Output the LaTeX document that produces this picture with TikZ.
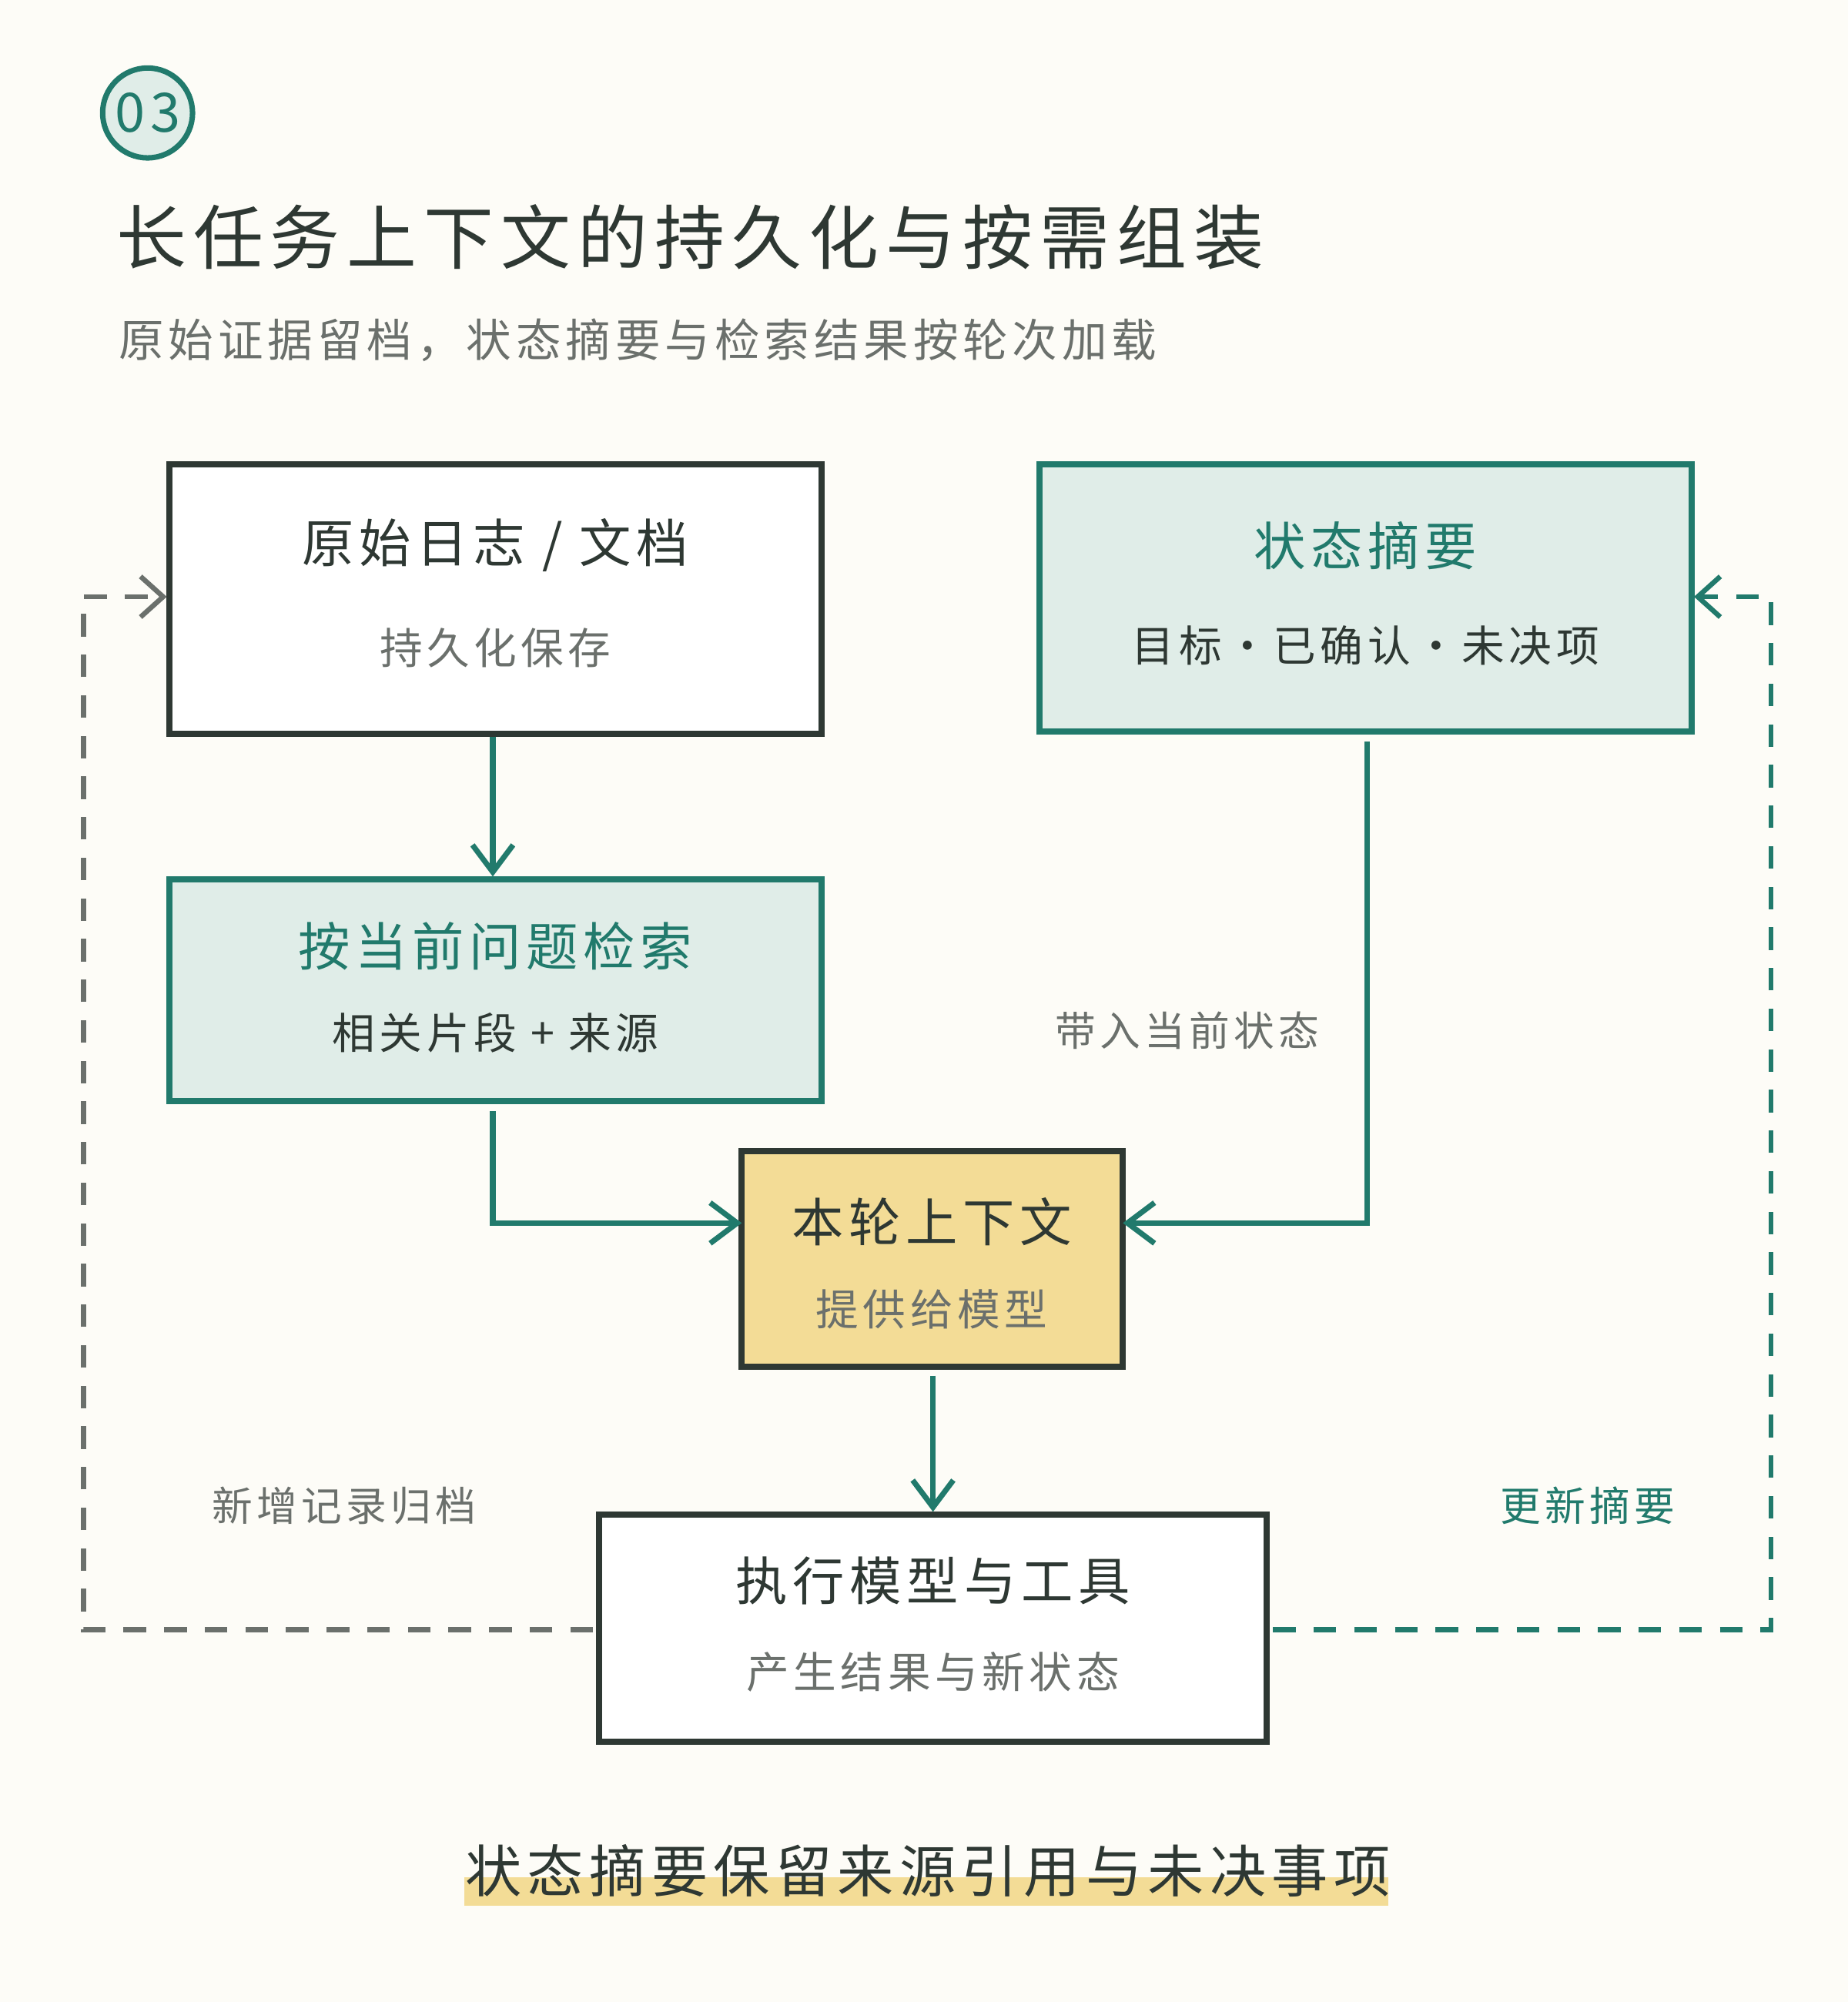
\documentclass[tikz,border=0pt]{standalone}
\usepackage{fontspec}
\setmainfont[LetterSpace=10]{Noto Sans CJK SC}
\usetikzlibrary{arrows.meta}
\definecolor{ink}{HTML}{2E3833}
\definecolor{teal}{HTML}{217A6C}
\definecolor{mint}{HTML}{E0EDE8}
\definecolor{sand}{HTML}{F3DC96}
\definecolor{muted}{HTML}{6B706C}
\definecolor{paper}{HTML}{FDFCF7}
\tikzset{
  box/.style={draw=ink, line width=1.4pt, fill=white},
  flow/.style={teal, line width=1.2pt, -{Straight Barb[length=6pt,width=9pt]}},
  back/.style={line width=1.1pt, dash pattern=on 5pt off 4pt, -{Straight Barb[length=5pt,width=9pt]}},
  head/.style={font=\fontsize{11.5}{13}\selectfont},
  sub/.style={font=\fontsize{9.5}{11}\selectfont},
  note/.style={font=\fontsize{9}{11}\selectfont, muted}
}
\begin{document}
\begin{tikzpicture}[x=0.01cm, y=-0.01cm]
  \fill[paper] (0,0) rectangle (1440,1560);
  % badge and titles
  \node[circle, draw=teal, line width=1.2pt, fill=mint, minimum size=0.7cm, inner sep=0pt,
        text=teal, font=\fontsize{12}{14}\selectfont] (badge) at (115,88) {03};
  \node[anchor=west, inner sep=0pt, text=ink, font=\fontsize{15.5}{18}\selectfont] (title) at (90,185) {长任务上下文的持久化与按需组装};
  \node[anchor=west, inner sep=0pt, text=muted, font=\fontsize{10}{12}\selectfont] (subtitle) at (92,265) {原始证据留档，状态摘要与检索结果按轮次加载};
  % boxes
  \draw[box] (132,362) rectangle (640,572);
  \node[head, text=ink] (rawt) at (386,425) {原始日志 / 文档};
  \node[sub, text=muted] (raws) at (386,505) {持久化保存};
  \draw[box, draw=teal, fill=mint] (810,362) rectangle (1318,570);
  \node[head, text=teal] (statet) at (1064,425) {状态摘要};
  \node[sub, text=ink] (states) at (1064,503) {目标·已确认·未决项};
  \draw[box, draw=teal, fill=mint] (132,685) rectangle (640,858);
  \node[head, text=teal] (searcht) at (386,737) {按当前问题检索};
  \node[sub, text=ink] (searchs) at (386,805) {相关片段 + 来源};
  \draw[box, fill=sand] (578,897) rectangle (875,1065);
  \node[head, text=ink] (ctxt) at (726,952) {本轮上下文};
  \node[sub, text=muted] (ctxs) at (726,1020) {提供给模型};
  \draw[box] (467,1180) rectangle (987,1357);
  \node[head, text=ink] (runt) at (727,1232) {执行模型与工具};
  \node[sub, text=muted] (runs) at (727,1303) {产生结果与新状态};
  % anchors
  \coordinate (rawS) at (384,574);   \coordinate (searchN) at (384,683);
  \coordinate (searchS) at (384,866); \coordinate (ctxW) at (578,953);
  \coordinate (stateS) at (1065,578); \coordinate (ctxE) at (875,953);
  \coordinate (ctxS) at (727,1072);  \coordinate (runN) at (727,1178);
  \coordinate (runW) at (462,1270);  \coordinate (rawW) at (130,465);
  \coordinate (runE) at (992,1270);  \coordinate (stateE) at (1320,465);
  % connectors
  \draw[flow] (rawS) -- (searchN);
  \draw[flow] (searchS) |- (ctxW);
  \draw[flow] (stateS) |- (ctxE);
  \draw[flow] (ctxS) -- (runN);
  \draw[back, muted] (runW) -- (65,1270) -- (65,465) -- (rawW);
  \draw[back, teal] (runE) -- (1380,1270) -- (1380,465) -- (stateE);
  % labels
  \node[note] (carry) at (925,803) {带入当前状态};
  \node[note] (archive) at (268,1173) {新增记录归档};
  \node[note, text=teal] (update) at (1237,1173) {更新摘要};
  % footer
  \fill[sand] (362,1463) rectangle (1082,1485);
  \node[text=ink, font=\fontsize{12.5}{15}\selectfont] (footer) at (723,1458) {状态摘要保留来源引用与未决事项};
\end{tikzpicture}
\end{document}
